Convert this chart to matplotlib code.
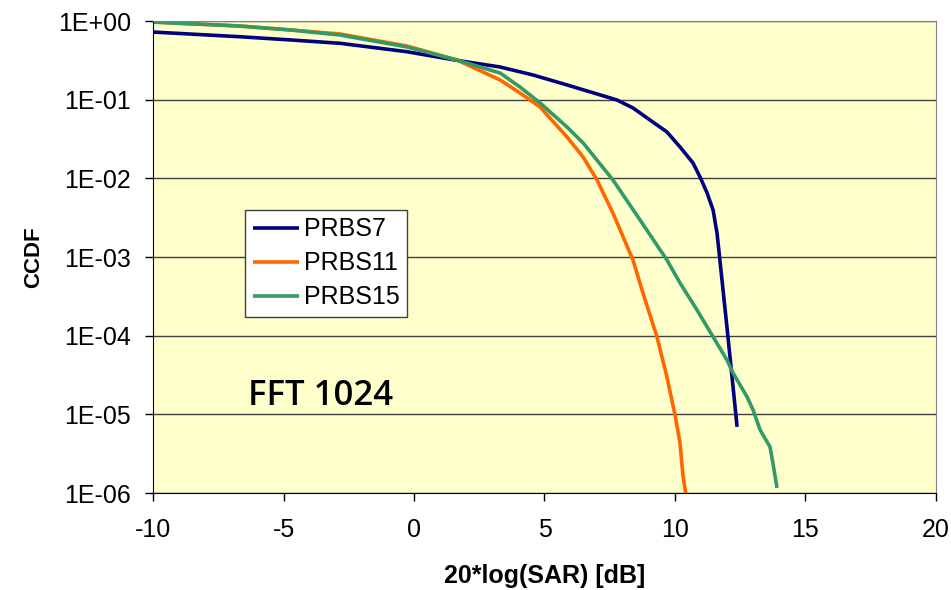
import numpy as np
import matplotlib
matplotlib.use("Agg")
import matplotlib.pyplot as plt
from matplotlib.ticker import FixedLocator, FuncFormatter

plt.rcParams['font.family'] = ['Liberation Sans', 'DejaVu Sans']
plt.rcParams['axes.unicode_minus'] = False

# CCDF curves (x in dB, y as CCDF)
prbs7_x = [-10, -6.67, -4.75, -2.84, -0.27, 1.65, 3.30, 4.56, 5.86, 7.13, 7.78, 8.39, 9.04, 9.69,
           10.19, 10.69, 10.96, 11.23, 11.46, 11.61, 11.72, 12.03, 12.38]
prbs7_y = [0.724, 0.631, 0.575, 0.521, 0.407, 0.316, 0.26, 0.206, 0.154, 0.115, 0.099, 0.0785, 0.0552, 0.0389,
           0.0251, 0.0157, 0.0104, 0.00652, 0.00396, 0.00202, 0.000918, 0.0000966, 0.00000693]

prbs11_x = [-10, -6.67, -4.75, -2.84, -0.27, 1.65, 3.30, 4.06, 4.83, 5.86, 6.48, 7.01, 7.62, 8.39,
            8.77, 9.31, 9.69, 10.00, 10.19, 10.31, 10.42]
prbs11_y = [0.97, 0.863, 0.77, 0.684, 0.481, 0.319, 0.178, 0.1217, 0.0807, 0.0336, 0.0187, 0.00955, 0.00363, 0.000918,
            0.00035, 0.0000966, 0.00003, 0.00000986, 0.00000435, 0.00000161, 0.00000095]

prbs15_x = [-10, -6.67, -4.75, -2.84, -0.27, 1.65, 3.30, 4.06, 4.83, 5.86, 6.48, 7.62, 8.66, 9.69,
            10.19, 10.84, 11.46, 11.99, 12.22, 12.76, 12.99, 13.26, 13.64, 13.75, 13.91]
prbs15_y = [0.97, 0.863, 0.77, 0.664, 0.468, 0.319, 0.218, 0.145, 0.0908, 0.045, 0.0282, 0.00955, 0.00296, 0.000918,
            0.000469, 0.000213, 0.0000966, 0.0000492, 0.0000337, 0.0000167, 0.0000114, 0.00000635, 0.00000386,
            0.00000242, 0.00000116]

series = [("PRBS7", prbs7_x, prbs7_y, "#000080"),
          ("PRBS11", prbs11_x, prbs11_y, "#FF6600"),
          ("PRBS15", prbs15_x, prbs15_y, "#339966")]

fig = plt.figure(figsize=(9.51, 5.9), dpi=100)
ax = fig.add_axes([0.1609, 0.1644, 0.8233, 0.8000])
ax.set_facecolor("#FFFFCC")

for name, xs, ys, c in series:
    ax.plot(xs, ys, color=c, lw=2.6, label=name, solid_capstyle="butt", solid_joinstyle="round")

ax.set_yscale("log")
ax.set_xlim(-10, 20)
ax.set_ylim(1e-6, 1)
ax.yaxis.set_major_locator(FixedLocator([10.0 ** k for k in range(-6, 1)]))
ax.yaxis.set_minor_locator(FixedLocator([]))
ax.yaxis.set_major_formatter(FuncFormatter(lambda v, p: "1E%+03d" % int(round(np.log10(v)))))
ax.set_xticks(range(-10, 21, 5))
ax.grid(axis="y", color="#404040", lw=1)
ax.tick_params(direction="out", length=6, width=1, labelsize=18)
ax.tick_params(axis="y", pad=10)
ax.tick_params(axis="x", pad=12)
ax.spines["top"].set_color("#808080")
ax.spines["right"].set_color("#808080")

ax.set_xlabel("20*log(SAR) [dB]", fontsize=18, fontweight="bold", labelpad=16)
ax.set_ylabel("CCDF", fontsize=16, fontweight="bold", labelpad=10)

ax.text(-6.35, 1.32e-5, "FFT 1024", fontsize=25, fontweight="semibold",
        family=["Open Sans", "DejaVu Sans"])

leg = ax.legend(loc="upper left", bbox_to_anchor=(0.1175, 0.5996), borderaxespad=0, fontsize=18,
                frameon=True, fancybox=False, framealpha=1, edgecolor="#404040",
                handlelength=1.85, borderpad=0.3, labelspacing=0.4, handletextpad=0.2)
leg.get_frame().set_linewidth(1)

fig.savefig("out.png", dpi=100)
